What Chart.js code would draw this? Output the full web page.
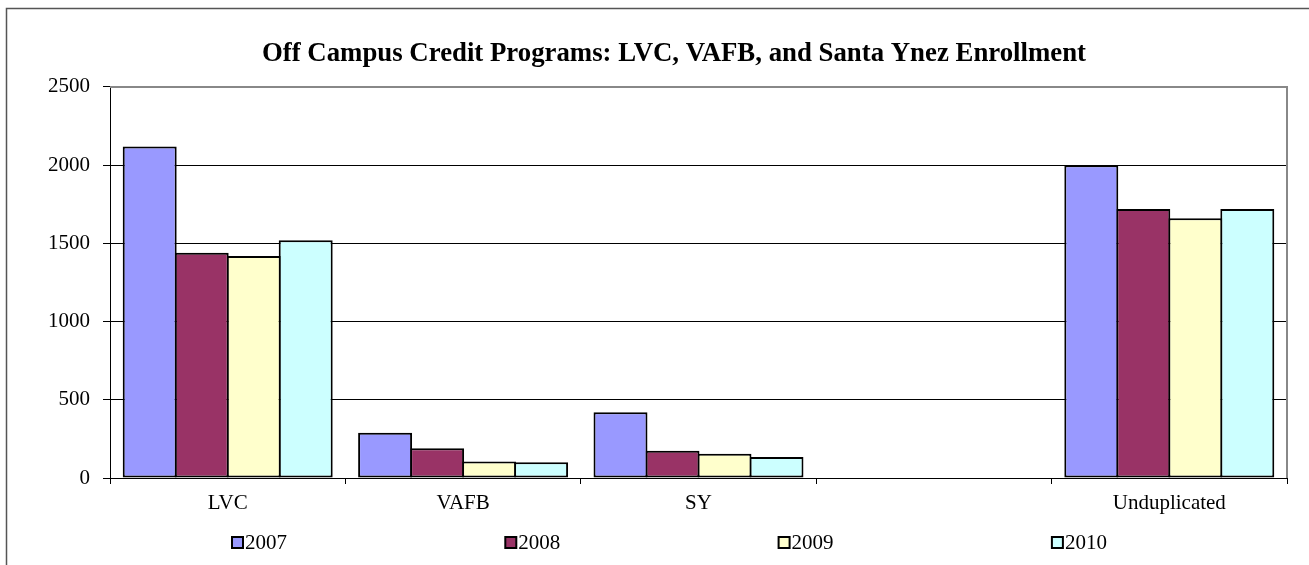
<!DOCTYPE html>
<html>
<head>
<meta charset="utf-8">
<script src="https://cdn.jsdelivr.net/npm/chart.js@4.4.1/dist/chart.umd.min.js"></script>
<style>
  html, body { margin: 0; padding: 0; background: #fff; }
  #wrap { width: 1309px; height: 565px; position: relative; }
</style>
</head>
<body>
<div id="wrap"><canvas id="c" width="1309" height="565"></canvas></div>
<script>
const categories = ['LVC', 'VAFB', 'SY', '', 'Unduplicated'];
const seriesNames = ['2007', '2008', '2009', '2010'];
const values2007 = [2120, 290, 420, null, 2000];
const values2008 = [1440, 190, 175, null, 1720];
const values2009 = [1420, 105, 155, null, 1660];
const values2010 = [1520, 100, 135, null, 1720];
const yTicks = [0, 500, 1000, 1500, 2000, 2500];
const titleText = 'Off Campus Credit Programs: LVC, VAFB, and Santa Ynez Enrollment';

const colors = ['#9999FF', '#993366', '#FFFFCC', '#CCFFFF'];
const seriesValues = [values2007, values2008, values2009, values2010];
const FONT = "'Liberation Serif', 'Times New Roman', serif";

const framePlugin = {
  id: 'frame',
  afterLayout(chart) {
    // let the y tick labels extend left of the layout padding without being clipped
    chart.scales.y.left = 0;
  },
  beforeDraw(chart) {
    const ctx = chart.ctx;
    ctx.save();
    ctx.fillStyle = '#fff';
    ctx.fillRect(0, 0, chart.width, chart.height);
    ctx.strokeStyle = '#555';
    ctx.lineWidth = 1.5;
    ctx.strokeRect(6.5, 8.5, 1400, 700);
    ctx.restore();
  },
  afterDatasetsDraw(chart) {
    const ctx = chart.ctx;
    const a = chart.chartArea;
    ctx.save();
    ctx.strokeStyle = '#888';
    ctx.lineWidth = 2;
    ctx.beginPath();
    ctx.moveTo(a.left, a.top);
    ctx.lineTo(a.right, a.top);
    ctx.lineTo(a.right, a.bottom);
    ctx.stroke();
    ctx.restore();
  },
  afterDraw(chart) {
    const ctx = chart.ctx;
    ctx.save();
    ctx.font = '21px ' + FONT;
    ctx.textBaseline = 'middle';
    ctx.textAlign = 'left';
    const y = 543;
    chart.data.datasets.forEach((ds, i) => {
      const x = 232 + i * 273.3;
      ctx.fillStyle = ds.backgroundColor;
      ctx.fillRect(x, y - 6, 11, 11);
      ctx.strokeStyle = '#000';
      ctx.lineWidth = 2;
      ctx.strokeRect(x, y - 6, 11, 11);
      ctx.fillStyle = '#000';
      ctx.fillText(ds.label, x + 13, y);
    });
    ctx.restore();
  }
};

new Chart(document.getElementById('c'), {
  type: 'bar',
  data: {
    labels: categories,
    datasets: seriesNames.map((name, i) => ({
      label: name,
      data: seriesValues[i],
      backgroundColor: colors[i],
      borderColor: '#000',
      borderWidth: 2,
      borderSkipped: false,
      categoryPercentage: 0.8836,
      barPercentage: 1.038
    }))
  },
  options: {
    responsive: false,
    animation: false,
    devicePixelRatio: 1,
    layout: { padding: { left: 61, right: 22, top: 0, bottom: 0 } },
    plugins: {
      legend: { display: false },
      tooltip: { enabled: false },
      title: {
        display: true,
        text: titleText,
        color: '#000',
        font: { family: FONT, size: 26.8, weight: 'bold', lineHeight: 1.2 },
        padding: { top: 38, bottom: 16.8 }
      }
    },
    scales: {
      x: {
        offset: true,
        grid: { offset: true, drawOnChartArea: false, drawTicks: true, tickLength: 6, color: '#000', tickColor: '#000' },
        border: { color: '#000', width: 1 },
        ticks: { color: '#000', font: { family: FONT, size: 21 }, padding: 7, maxRotation: 0, autoSkip: false },
        afterFit(scale) { scale.height = 87; }
      },
      y: {
        min: 0,
        max: 2500,
        afterBuildTicks(scale) { scale.ticks = yTicks.map(v => ({ value: v })); },
        grid: {
          color: ctx => (ctx.tick && ctx.tick.value === 2500) ? '#888' : '#000',
          lineWidth: 1,
          tickColor: '#000',
          tickLength: 7,
          drawTicks: true
        },
        border: { color: '#000', width: 1 },
        ticks: { color: '#000', font: { family: FONT, size: 21 }, padding: 13, callback: v => String(v) },
        afterFit(scale) { scale.width = 49; }
      }
    }
  },
  plugins: [framePlugin]
});
</script>
</body>
</html>
